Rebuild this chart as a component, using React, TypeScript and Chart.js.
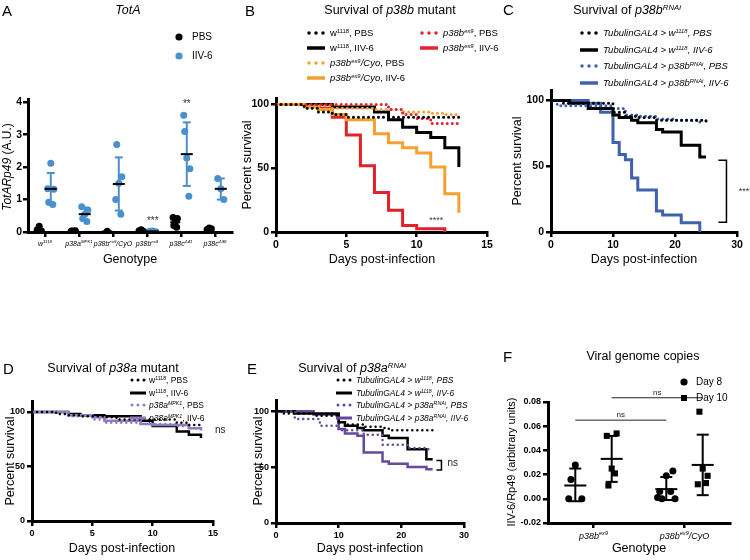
import React, { useEffect, useRef } from 'react';
import { Chart, registerables } from 'chart.js';

Chart.register(...registerables);

const W = 750;
const H = 560;
const FONT = '"Liberation Sans", Arial, Helvetica, sans-serif';

// ---------------- Panel A: TotA ----------------
const aGenotypes = ['w^{1118}', 'p38a^{MPK1}', 'p38b^{ex9}/CyO', 'p38b^{ex9}', 'p38c^{Δ41}', 'p38c^{Δ98}'];
const aPbsValues = [[0.18, 0.06, 0.03], [0.03, 0.02, 0.04, 0.03], [0.02], [0.07, 0.04, 0.02], [0.3, 0.45, 0.42, 0.2, 0.15], [0.12, 0.08, 0.1]];
const aIivValues = [[2.12, 1.33, 1.32, 0.92, 0.85], [0.55, 0.78, 0.68, 0.42, 0.32], [1.5, 1.0, 1.7, 2.7, 0.55], [0.03, 0.02, 0.01], [2.28, 3.6, 1.95, 3.1, 1.1], [1.33, 1.65, 1.0]];
const aPbsMean = [0.08, 0.03, 0.02, 0.04, 0.3, 0.1];
const aIivMean = [1.33, 0.55, 1.48, 0.02, 2.4, 1.33];
const aIivSdLow = [0.85, 0.35, 0.66, 0.01, 1.42, 1.0];
const aIivSdHigh = [1.82, 0.75, 2.3, 0.03, 3.38, 1.65];
const aYTicks = [0, 1, 2, 3, 4];

// ---------------- Panel B: survival of p38b mutant ----------------
const bW1118PbsDays = [0, 2, 3, 4, 5, 13];
const bW1118PbsSurv = [100, 97, 94, 92, 90, 90];
const bW1118IivDays = [0, 4, 7, 8, 9, 10, 11, 12, 13];
const bW1118IivSurv = [100, 98, 94, 88, 82, 78, 74, 66, 51];
const bEx9PbsDays = [0, 8, 9, 10, 11, 13];
const bEx9PbsSurv = [100, 96, 92, 89, 85, 85];
const bEx9IivDays = [0, 3, 4, 5, 6, 7, 8, 9, 10, 12];
const bEx9IivSurv = [100, 97, 90, 76, 52, 31, 17, 5, 2.5, 0];
const bCyoPbsDays = [0, 2, 4, 7, 9, 11, 12, 13];
const bCyoPbsSurv = [100, 99, 97, 96, 94, 93, 92, 92];
const bCyoIivDays = [0, 2, 3, 4, 5, 7, 8, 9, 10, 11, 12, 13];
const bCyoIivSurv = [100, 98, 96, 92, 88, 77, 70, 66, 62, 51, 30, 15];
const bXTicks = [0, 5, 10, 15];
const survTicks = [0, 50, 100];

// ---------------- Panel C: survival of p38b RNAi ----------------
const cW1118PbsDays = [0, 2, 10, 12, 14, 17, 25];
const cW1118PbsSurv = [100, 98, 91, 88, 87, 85, 83];
const cW1118IivDays = [0, 3, 6, 10, 11, 13, 14, 17, 18, 21, 24, 25];
const cW1118IivSurv = [100, 98, 94, 89, 87, 85, 83, 78, 76, 66, 57, 57];
const cRnaiPbsDays = [0, 1, 10, 12, 14, 17, 20, 24];
const cRnaiPbsSurv = [100, 96, 94, 89, 88, 86, 85, 80];
const cRnaiIivDays = [0, 6, 8, 10, 11, 12, 13, 14, 17, 18, 21, 24];
const cRnaiIivSurv = [100, 98, 91, 68, 59, 55, 41, 32, 16, 13, 7, 0];
const cXTicks = [0, 10, 20, 30];

// ---------------- Panel D: survival of p38a mutant ----------------
const dW1118PbsDays = [0, 2, 3, 4, 6, 7, 12, 13, 14];
const dW1118PbsSurv = [100, 98, 97, 96, 95, 93, 90, 88, 86];
const dW1118IivDays = [0, 3, 4, 6, 9, 10, 12, 13, 14];
const dW1118IivSurv = [100, 98, 97, 96, 92, 87, 82, 79, 76];
const dMpkPbsDays = [0, 2, 3, 5, 6, 9, 12, 13, 14];
const dMpkPbsSurv = [100, 98, 96, 93, 90, 89, 87, 85, 84];
const dMpkIivDays = [0, 3, 5, 6, 9, 10, 13, 14];
const dMpkIivSurv = [100, 97, 95, 92, 89, 88, 85, 83];
const dXTicks = [0, 5, 10, 15];

// ---------------- Panel E: survival of p38a RNAi ----------------
const eW1118PbsDays = [0, 1, 6, 10, 11, 14, 17, 18, 25];
const eW1118PbsSurv = [100, 98, 96, 90, 88, 86, 85, 83, 83];
const eW1118IivDays = [0, 3, 10, 11, 13, 14, 17, 18, 21, 24, 25];
const eW1118IivSurv = [100, 98, 90, 87, 85, 83, 78, 76, 66, 57, 57];
const eRnaiPbsDays = [0, 3, 7, 10, 14, 17, 21, 24, 25];
const eRnaiPbsSurv = [100, 93, 87, 83, 79, 70, 67, 66, 66];
const eRnaiIivDays = [0, 6, 10, 11, 13, 14, 17, 18, 21, 24, 25];
const eRnaiIivSurv = [100, 97, 84, 80, 78, 63, 55, 53, 50, 48, 48];
const eXTicks = [0, 10, 20, 30];

// ---------------- Panel F: viral genome copies ----------------
const fGenotypes = ['p38b^{ex9}', 'p38b^{ex9}/CyO'];
const fDay8Values = [[0.028, 0.0, 0.0, 0.016], [0.019, 0.006, 0.023, 0.0, 0.006, 0.001, 0.0]];
const fDay10Values = [[0.025, 0.052, 0.054, 0.011, 0.021], [0.025, 0.012, 0.019, 0.072, 0.013]];
const fDay8Mean = [0.011, 0.008];
const fDay8SdLow = [-0.002, -0.001];
const fDay8SdHigh = [0.025, 0.018];
const fDay10Mean = [0.033, 0.028];
const fDay10SdLow = [0.014, 0.003];
const fDay10SdHigh = [0.052, 0.053];
const fYTicks = [-0.02, 0, 0.02, 0.04, 0.06, 0.08];

// ---------------- styles ----------------
const A_BLUE = '#4A90CD';
const B_RED = '#E2222A';
const B_ORANGE = '#F4A130';
const C_BLUE = '#3F62AE';
const D_PURPLE = '#8F7BBF';
const E_PURPLE = '#66499C';
const JITTER = [0, -0.09, 0.09, -0.06, 0.06, -0.12, 0.12];

// ---------------- rich text helpers ----------------
type Seg = { t: string; it: boolean; sup: boolean };
function parseRich(s: string, baseItalic = false): Seg[] {
  const out: Seg[] = [];
  let it = baseItalic;
  let sup = false;
  let buf = '';
  const flush = () => {
    if (buf) out.push({ t: buf, it, sup });
    buf = '';
  };
  for (let i = 0; i < s.length; i++) {
    const c = s[i];
    if (c === '*') {
      flush();
      it = !it;
    } else if (c === '^' && s[i + 1] === '{') {
      flush();
      sup = true;
      i++;
    } else if (c === '}' && sup) {
      flush();
      sup = false;
    } else buf += c;
  }
  flush();
  return out;
}

function drawRich(ctx: CanvasRenderingContext2D, s: string, x: number, y: number, size: number, italic: boolean, color = '#000') {
  const segs = parseRich(s, italic);
  const fontOf = (g: Seg) => `${g.it ? 'italic ' : ''}${g.sup ? size * 0.62 : size}px ${FONT}`;
  let total = 0;
  const widths = segs.map((g) => {
    ctx.font = fontOf(g);
    const w = ctx.measureText(g.t).width;
    total += w;
    return w;
  });
  let cx = x - total / 2;
  ctx.fillStyle = color;
  ctx.textAlign = 'left';
  ctx.textBaseline = 'alphabetic';
  segs.forEach((g, i) => {
    ctx.font = fontOf(g);
    ctx.fillText(g.t, cx, g.sup ? y - size * 0.42 : y);
    cx += widths[i];
  });
}

function seg(ctx: CanvasRenderingContext2D, x1: number, y1: number, x2: number, y2: number) {
  ctx.beginPath();
  ctx.moveTo(x1, y1);
  ctx.lineTo(x2, y2);
  ctx.stroke();
}

// ---------------- chart helpers ----------------
function linAxis(o: { pos: 'x' | 'y'; min: number; max: number; ticks: number[]; size: number; box: number; fmt?: (v: number) => string; hide?: boolean; pad?: number }) {
  return {
    type: 'linear',
    position: o.pos === 'x' ? 'bottom' : 'left',
    min: o.min,
    max: o.max,
    afterBuildTicks: (s: any) => {
      s.ticks = o.ticks.map((v) => ({ value: v }));
    },
    afterFit: (s: any) => {
      if (o.pos === 'x') s.height = o.box;
      else s.width = o.box;
    },
    ticks: {
      autoSkip: false,
      maxRotation: 0,
      minRotation: 0,
      padding: o.pad ?? 2,
      color: '#000',
      font: { family: FONT, size: o.size, weight: 'bold' },
      callback: (v: any) => (o.hide ? '' : o.fmt ? o.fmt(Number(v)) : String(v)),
    },
    grid: { display: true, drawOnChartArea: false, drawTicks: true, tickLength: 5, lineWidth: 2.5, color: '#000' },
    border: { display: true, width: 3, color: '#000' },
  };
}

function baseOptions(area: { l: number; t: number; r: number; b: number }, yw: number, xh: number, scales: any) {
  return {
    responsive: false,
    animation: false,
    devicePixelRatio: 1,
    events: [],
    layout: { padding: { left: area.l - yw, top: area.t, right: W - area.r, bottom: H - area.b - xh } },
    plugins: { legend: { display: false }, tooltip: { enabled: false }, title: { display: false } },
    scales,
  };
}

function km(days: number[], surv: number[], color: string, dotted: boolean, width: number) {
  return {
    type: 'line',
    data: days.map((d, i) => ({ x: d, y: surv[i] })),
    borderColor: color,
    backgroundColor: color,
    borderWidth: width,
    stepped: true,
    pointRadius: 0,
    fill: false,
    tension: 0,
    borderDash: dotted ? [0.01, 5] : [],
    borderCapStyle: dotted ? 'round' : 'butt',
    borderJoinStyle: 'miter',
    clip: 6,
  };
}

function textPlugin(id: string, items: { x: number; y: number; text: string; size: number; color?: string }[]) {
  return {
    id,
    afterDatasetsDraw(chart: any) {
      const { ctx } = chart;
      const xs = chart.scales.x;
      const ys = chart.scales.y;
      ctx.save();
      items.forEach((it) => {
        ctx.font = `${it.size}px ${FONT}`;
        ctx.fillStyle = it.color || '#000';
        ctx.textAlign = 'center';
        ctx.textBaseline = 'middle';
        ctx.fillText(it.text, xs.getPixelForValue(it.x), ys.getPixelForValue(it.y));
      });
      ctx.restore();
    },
  };
}

function bracketPlugin(id: string, xv: number, xTick: number, y1: number, y2: number) {
  return {
    id,
    afterDatasetsDraw(chart: any) {
      const { ctx } = chart;
      const xs = chart.scales.x;
      const ys = chart.scales.y;
      const px = xs.getPixelForValue(xv);
      const pt = xs.getPixelForValue(xTick);
      const a = ys.getPixelForValue(y1);
      const b = ys.getPixelForValue(y2);
      ctx.save();
      ctx.strokeStyle = '#000';
      ctx.lineWidth = 1.5;
      ctx.beginPath();
      ctx.moveTo(pt, a);
      ctx.lineTo(px, a);
      ctx.lineTo(px, b);
      ctx.lineTo(pt, b);
      ctx.stroke();
      ctx.restore();
    },
  };
}

// ---------------- chart configs ----------------
const A_PBS_OFF = -0.17;
const A_IIV_OFF = 0.17;

function makeA() {
  const pbs: any[] = [];
  const iiv: any[] = [];
  aPbsValues.forEach((vals, i) => vals.forEach((v, k) => pbs.push({ x: i + A_PBS_OFF + JITTER[k % JITTER.length] * 0.7, y: v })));
  aIivValues.forEach((vals, i) => vals.forEach((v, k) => iiv.push({ x: i + A_IIV_OFF + JITTER[k % JITTER.length], y: v })));
  const overlay = {
    id: 'aOverlay',
    afterDatasetsDraw(chart: any) {
      const { ctx } = chart;
      const xs = chart.scales.x;
      const ys = chart.scales.y;
      ctx.save();
      aGenotypes.forEach((_, i) => {
        const cx = xs.getPixelForValue(i + A_IIV_OFF);
        const lo = ys.getPixelForValue(aIivSdLow[i]);
        const hi = ys.getPixelForValue(aIivSdHigh[i]);
        ctx.strokeStyle = A_BLUE;
        ctx.lineWidth = 2;
        if (Math.abs(lo - hi) > 3) {
          seg(ctx, cx, lo, cx, hi);
          seg(ctx, cx - 4, lo, cx + 4, lo);
          seg(ctx, cx - 4, hi, cx + 4, hi);
        }
        ctx.strokeStyle = '#000';
        ctx.lineWidth = 2;
        const my = ys.getPixelForValue(aIivMean[i]);
        seg(ctx, cx - 6, my, cx + 6, my);
        const px = xs.getPixelForValue(i + A_PBS_OFF);
        const py = ys.getPixelForValue(aPbsMean[i]);
        seg(ctx, px - 5, py, px + 5, py);
      });
      ctx.font = `10px ${FONT}`;
      ctx.fillStyle = '#333';
      ctx.textAlign = 'center';
      ctx.textBaseline = 'middle';
      ctx.fillText('***', xs.getPixelForValue(3 + A_IIV_OFF), ys.getPixelForValue(0.32));
      ctx.fillText('**', xs.getPixelForValue(4 + A_IIV_OFF), ys.getPixelForValue(3.95));
      ctx.restore();
    },
    afterDraw(chart: any) {
      const { ctx } = chart;
      const xs = chart.scales.x;
      ctx.save();
      aGenotypes.forEach((g, i) => drawRich(ctx, g, xs.getPixelForValue(i), chart.chartArea.bottom + 14, 7, true));
      ctx.restore();
    },
  };
  return {
    type: 'scatter',
    data: {
      datasets: [
        { data: pbs, backgroundColor: '#000', borderWidth: 0, pointRadius: 3.5 },
        { data: iiv, backgroundColor: A_BLUE, borderWidth: 0, pointRadius: 3.5 },
      ],
    },
    options: baseOptions({ l: 28, t: 99, r: 232, b: 232 }, 18, 20, {
      x: linAxis({ pos: 'x', min: -0.5, max: aGenotypes.length - 0.5, ticks: aGenotypes.map((_, i) => i), size: 7, box: 20, hide: true }),
      y: linAxis({ pos: 'y', min: 0, max: 4.1, ticks: aYTicks, size: 10.5, box: 18, pad: 1 }),
    }),
    plugins: [overlay],
  };
}

function makeB() {
  return {
    type: 'line',
    data: {
      datasets: [
        km(bW1118PbsDays, bW1118PbsSurv, '#000', true, 3),
        km(bEx9PbsDays, bEx9PbsSurv, B_RED, true, 3),
        km(bCyoPbsDays, bCyoPbsSurv, B_ORANGE, true, 3),
        km(bCyoIivDays, bCyoIivSurv, B_ORANGE, false, 3),
        km(bW1118IivDays, bW1118IivSurv, '#000', false, 3),
        km(bEx9IivDays, bEx9IivSurv, B_RED, false, 3),
      ],
    },
    options: baseOptions({ l: 276, t: 98, r: 487, b: 232 }, 26, 20, {
      x: linAxis({ pos: 'x', min: 0, max: 15, ticks: bXTicks, size: 10.5, box: 20 }),
      y: linAxis({ pos: 'y', min: 0, max: 105, ticks: survTicks, size: 10.5, box: 26 }),
    }),
    plugins: [textPlugin('bStars', [{ x: 11.4, y: 9, text: '****', size: 9, color: '#444' }])],
  };
}

function makeC() {
  return {
    type: 'line',
    data: {
      datasets: [
        km(cW1118PbsDays, cW1118PbsSurv, '#000', true, 3),
        km(cRnaiPbsDays, cRnaiPbsSurv, C_BLUE, true, 3),
        km(cW1118IivDays, cW1118IivSurv, '#000', false, 3),
        km(cRnaiIivDays, cRnaiIivSurv, C_BLUE, false, 3),
      ],
    },
    options: baseOptions({ l: 551, t: 90, r: 737, b: 232 }, 26, 20, {
      x: linAxis({ pos: 'x', min: 0, max: 30, ticks: cXTicks, size: 10.5, box: 20 }),
      y: linAxis({ pos: 'y', min: 0, max: 108, ticks: survTicks, size: 10.5, box: 26 }),
    }),
    plugins: [bracketPlugin('cBracket', 28.3, 27, 54.6, 7.4), textPlugin('cStars', [{ x: 31.4, y: 31, text: '****', size: 9, color: '#333' }])],
  };
}

function makeD() {
  return {
    type: 'line',
    data: {
      datasets: [
        km(dW1118PbsDays, dW1118PbsSurv, '#000', true, 2.5),
        km(dMpkPbsDays, dMpkPbsSurv, D_PURPLE, true, 2.5),
        km(dMpkIivDays, dMpkIivSurv, D_PURPLE, false, 2.5),
        km(dW1118IivDays, dW1118IivSurv, '#000', false, 2.5),
      ],
    },
    options: baseOptions({ l: 32, t: 401, r: 213, b: 521 }, 24, 18, {
      x: linAxis({ pos: 'x', min: 0, max: 15, ticks: dXTicks, size: 9, box: 18 }),
      y: linAxis({ pos: 'y', min: 0, max: 110, ticks: survTicks, size: 9, box: 24 }),
    }),
    plugins: [textPlugin('dNs', [{ x: 15.6, y: 83, text: 'ns', size: 10, color: '#222' }])],
  };
}

function makeE() {
  return {
    type: 'line',
    data: {
      datasets: [
        km(eW1118PbsDays, eW1118PbsSurv, '#000', true, 2.5),
        km(eRnaiPbsDays, eRnaiPbsSurv, E_PURPLE, true, 2.5),
        km(eW1118IivDays, eW1118IivSurv, '#000', false, 2.5),
        km(eRnaiIivDays, eRnaiIivSurv, E_PURPLE, false, 2.5),
      ],
    },
    options: baseOptions({ l: 276, t: 400, r: 464, b: 523 }, 24, 18, {
      x: linAxis({ pos: 'x', min: 0, max: 30, ticks: eXTicks, size: 9, box: 18 }),
      y: linAxis({ pos: 'y', min: 0, max: 110, ticks: survTicks, size: 9, box: 24 }),
    }),
    plugins: [bracketPlugin('eBracket', 26.4, 25.6, 56, 47.5), textPlugin('eNs', [{ x: 28.2, y: 53, text: 'ns', size: 10, color: '#222' }])],
  };
}

const F_D8_OFF = -0.2;
const F_D10_OFF = 0.2;

function makeF() {
  const d8: any[] = [];
  const d10: any[] = [];
  fDay8Values.forEach((vals, i) => vals.forEach((v, k) => d8.push({ x: i + F_D8_OFF + JITTER[k % JITTER.length] * 0.8, y: v })));
  fDay10Values.forEach((vals, i) => vals.forEach((v, k) => d10.push({ x: i + F_D10_OFF + JITTER[k % JITTER.length] * 0.6, y: v })));
  const overlay = {
    id: 'fOverlay',
    afterDatasetsDraw(chart: any) {
      const { ctx } = chart;
      const xs = chart.scales.x;
      const ys = chart.scales.y;
      ctx.save();
      ctx.strokeStyle = '#000';
      ctx.lineWidth = 2;
      const bars = (off: number, mean: number[], lo: number[], hi: number[]) => {
        mean.forEach((m, i) => {
          const cx = xs.getPixelForValue(i + off);
          const l = ys.getPixelForValue(lo[i]);
          const h = ys.getPixelForValue(hi[i]);
          seg(ctx, cx, l, cx, h);
          seg(ctx, cx - 6, l, cx + 6, l);
          seg(ctx, cx - 6, h, cx + 6, h);
          const my = ys.getPixelForValue(m);
          seg(ctx, cx - 11, my, cx + 11, my);
        });
      };
      bars(F_D8_OFF, fDay8Mean, fDay8SdLow, fDay8SdHigh);
      bars(F_D10_OFF, fDay10Mean, fDay10SdLow, fDay10SdHigh);
      ctx.strokeStyle = '#222';
      ctx.lineWidth = 1;
      const yLow = ys.getPixelForValue(0.065);
      const yHigh = ys.getPixelForValue(0.0835);
      seg(ctx, xs.getPixelForValue(0 + F_D8_OFF), yLow, xs.getPixelForValue(1 + F_D8_OFF), yLow);
      seg(ctx, xs.getPixelForValue(0 + F_D10_OFF), yHigh, xs.getPixelForValue(1 + F_D10_OFF), yHigh);
      ctx.font = `8px ${FONT}`;
      ctx.fillStyle = '#222';
      ctx.textAlign = 'center';
      ctx.textBaseline = 'alphabetic';
      ctx.fillText('ns', xs.getPixelForValue(0.5 + F_D8_OFF), yLow - 3);
      ctx.fillText('ns', xs.getPixelForValue(0.5 + F_D10_OFF), yHigh - 3);
      ctx.restore();
    },
    afterDraw(chart: any) {
      const { ctx } = chart;
      const xs = chart.scales.x;
      ctx.save();
      fGenotypes.forEach((g, i) => drawRich(ctx, g, xs.getPixelForValue(i), chart.chartArea.bottom + 16, 9, true));
      ctx.restore();
    },
  };
  return {
    type: 'scatter',
    data: {
      datasets: [
        { data: d8, backgroundColor: '#000', borderWidth: 0, pointRadius: 3.5, pointStyle: 'circle' },
        { data: d10, backgroundColor: '#000', borderWidth: 0, pointRadius: 4.3, pointStyle: 'rect' },
      ],
    },
    options: baseOptions({ l: 548, t: 402, r: 730, b: 523 }, 30, 20, {
      x: linAxis({ pos: 'x', min: -0.5, max: 1.5, ticks: [0, 1], size: 9, box: 20, hide: true }),
      y: linAxis({ pos: 'y', min: -0.02, max: 0.08, ticks: fYTicks, size: 9, box: 30, fmt: (v) => v.toFixed(2) }),
    }),
    plugins: [overlay],
  };
}

// ---------------- React components ----------------
function ChartCanvas({ make }: { make: () => any }) {
  const ref = useRef<HTMLCanvasElement>(null);
  useEffect(() => {
    const chart = new Chart(ref.current as HTMLCanvasElement, make() as any);
    return () => chart.destroy();
  }, []);
  return <canvas ref={ref} width={W} height={H} style={{ position: 'absolute', left: 0, top: 0, width: W, height: H }} />;
}

function Rich({ s, italic }: { s: string; italic?: boolean }) {
  return (
    <>
      {parseRich(s, !!italic).map((g, i) => (
        <span
          key={i}
          style={{
            fontStyle: g.it ? 'italic' : 'normal',
            fontSize: g.sup ? '0.62em' : undefined,
            position: 'relative',
            top: g.sup ? '-0.5em' : 0,
          }}
        >
          {g.t}
        </span>
      ))}
    </>
  );
}

function Txt(p: { x: number; y: number; s: string; size: number; anchor?: 'start' | 'middle'; italic?: boolean; rotate?: boolean; bold?: boolean; color?: string }) {
  const tx = p.anchor === 'start' ? '0' : '-50%';
  return (
    <div
      style={{
        position: 'absolute',
        left: p.x,
        top: p.y,
        transform: `translate(${tx},-50%)${p.rotate ? ' rotate(-90deg)' : ''}`,
        fontSize: p.size,
        lineHeight: 1,
        whiteSpace: 'nowrap',
        fontWeight: p.bold ? 700 : 400,
        color: p.color || '#000',
        fontFamily: FONT,
      }}
    >
      <Rich s={p.s} italic={p.italic} />
    </div>
  );
}

function Swatch({ x, y, kind, color, len = 18, w = 3.5 }: { x: number; y: number; kind: 'dot' | 'solid' | 'circle' | 'square'; color: string; len?: number; w?: number }) {
  return (
    <svg width={len} height={10} style={{ position: 'absolute', left: x, top: y - 5 }}>
      {kind === 'solid' && <line x1={0} y1={5} x2={len} y2={5} stroke={color} strokeWidth={w} />}
      {kind === 'dot' && <line x1={2} y1={5} x2={len - 1} y2={5} stroke={color} strokeWidth={w} strokeDasharray={`0 ${(len - 4) / 2}`} strokeLinecap="round" />}
      {kind === 'circle' && <circle cx={len / 2} cy={5} r={3.6} fill={color} />}
      {kind === 'square' && <rect x={len / 2 - 3} y={2} width={6} height={6} fill={color} />}
    </svg>
  );
}

type LegItem = { kind: 'dot' | 'solid' | 'circle' | 'square'; color: string; text: string };

function Legend({ x, y, dy, items, size, len, w, italic, gap = 5 }: { x: number; y: number; dy: number; items: LegItem[]; size: number; len: number; w: number; italic?: boolean; gap?: number }) {
  return (
    <>
      {items.map((it, i) => (
        <React.Fragment key={i}>
          <Swatch x={x} y={y + i * dy} kind={it.kind} color={it.color} len={len} w={w} />
          <Txt x={x + len + gap} y={y + i * dy} s={it.text} size={size} anchor="start" italic={italic} />
        </React.Fragment>
      ))}
    </>
  );
}

export default function App() {
  return (
    <div style={{ position: 'absolute', left: 0, top: 0, width: W, height: H, background: '#fff', overflow: 'hidden', fontFamily: FONT }}>
      <ChartCanvas make={makeA} />
      <ChartCanvas make={makeB} />
      <ChartCanvas make={makeC} />
      <ChartCanvas make={makeD} />
      <ChartCanvas make={makeE} />
      <ChartCanvas make={makeF} />

      {/* Panel letters */}
      <Txt x={2} y={10} s="A" size={15} anchor="start" />
      <Txt x={245} y={10} s="B" size={15} anchor="start" />
      <Txt x={503} y={9} s="C" size={15} anchor="start" />
      <Txt x={3} y={368} s="D" size={15} anchor="start" />
      <Txt x={247} y={368} s="E" size={15} anchor="start" />
      <Txt x={503} y={356} s="F" size={15} anchor="start" />

      {/* Titles */}
      <Txt x={128} y={10} s="*TotA*" size={12.5} />
      <Txt x={390} y={10} s="Survival of *p38b* mutant" size={12.5} />
      <Txt x={627} y={10} s="Survival of *p38b*^{*RNAi*}" size={12.5} />
      <Txt x={113} y={368} s="Survival of *p38a* mutant" size={12.5} />
      <Txt x={352} y={368} s="Survival of *p38a*^{*RNAi*}" size={12.5} />
      <Txt x={643} y={356} s="Viral genome copies" size={12.5} />

      {/* Axis titles */}
      <Txt x={7} y={167} s="*TotARp49* (A.U.)" size={12} rotate />
      <Txt x={130} y={259} s="Genotype" size={12.5} />
      <Txt x={247} y={165} s="Percent survival" size={12.5} rotate />
      <Txt x={382} y={259} s="Days post-infection" size={12.5} />
      <Txt x={517} y={161} s="Percent survival" size={12.5} rotate />
      <Txt x={644} y={259} s="Days post-infection" size={12.5} />
      <Txt x={10} y={461} s="Percent survival" size={12.5} rotate />
      <Txt x={122} y={548} s="Days post-infection" size={12.5} />
      <Txt x={258} y={461} s="Percent survival" size={12.5} rotate />
      <Txt x={370} y={548} s="Days post-infection" size={12.5} />
      <Txt x={511} y={462} s="IIV-6/Rp49 (arbitrary units)" size={11} rotate />
      <Txt x={639} y={548} s="Genotype" size={12.5} />

      {/* Legends */}
      <Legend x={170} y={37} dy={19} size={10} len={18} w={3} gap={4} items={[
        { kind: 'circle', color: '#000', text: 'PBS' },
        { kind: 'circle', color: A_BLUE, text: 'IIV-6' },
      ]} />
      <Legend x={307} y={33} dy={15} size={9.5} len={18} w={3.5} items={[
        { kind: 'dot', color: '#000', text: 'w^{1118}, PBS' },
        { kind: 'solid', color: '#000', text: 'w^{1118}, IIV-6' },
        { kind: 'dot', color: B_ORANGE, text: '*p38b*^{*ex9*}*/Cyo*, PBS' },
        { kind: 'solid', color: B_ORANGE, text: '*p38b*^{*ex9*}*/Cyo*, IIV-6' },
      ]} />
      <Legend x={420} y={33} dy={15} size={9.5} len={18} w={3.5} items={[
        { kind: 'dot', color: B_RED, text: '*p38b*^{*ex9*}, PBS' },
        { kind: 'solid', color: B_RED, text: '*p38b*^{*ex9*}, IIV-6' },
      ]} />
      <Legend x={580} y={33} dy={16.7} size={9.5} len={18} w={3.5} italic items={[
        { kind: 'dot', color: '#000', text: 'TubulinGAL4 > w^{1118}, PBS' },
        { kind: 'solid', color: '#000', text: 'TubulinGAL4 > w^{1118}, IIV-6' },
        { kind: 'dot', color: C_BLUE, text: 'TubulinGAL4 > p38b^{RNAi}, PBS' },
        { kind: 'solid', color: C_BLUE, text: 'TubulinGAL4 > p38b^{RNAi}, IIV-6' },
      ]} />
      <Legend x={130} y={380} dy={12.5} size={8.5} len={16} w={3} gap={3} items={[
        { kind: 'dot', color: '#000', text: 'w^{1118}, PBS' },
        { kind: 'solid', color: '#000', text: 'w^{1118}, IIV-6' },
        { kind: 'dot', color: D_PURPLE, text: '*p38a*^{*MPK1*}, PBS' },
        { kind: 'solid', color: D_PURPLE, text: '*p38a*^{*MPK1*}, IIV-6' },
      ]} />
      <Legend x={336} y={380} dy={12.5} size={8.5} len={16} w={3} gap={4} italic items={[
        { kind: 'dot', color: '#000', text: 'TubulinGAL4 > w^{1118}, PBS' },
        { kind: 'solid', color: '#000', text: 'TubulinGAL4 > w^{1118}, IIV-6' },
        { kind: 'dot', color: E_PURPLE, text: 'TubulinGAL4 > p38a^{RNAi}, PBS' },
        { kind: 'solid', color: E_PURPLE, text: 'TubulinGAL4 > p38a^{RNAi}, IIV-6' },
      ]} />
      <Legend x={676} y={382} dy={16} size={10} len={16} w={3} gap={4} items={[
        { kind: 'circle', color: '#000', text: 'Day 8' },
        { kind: 'square', color: '#000', text: 'Day 10' },
      ]} />
    </div>
  );
}
